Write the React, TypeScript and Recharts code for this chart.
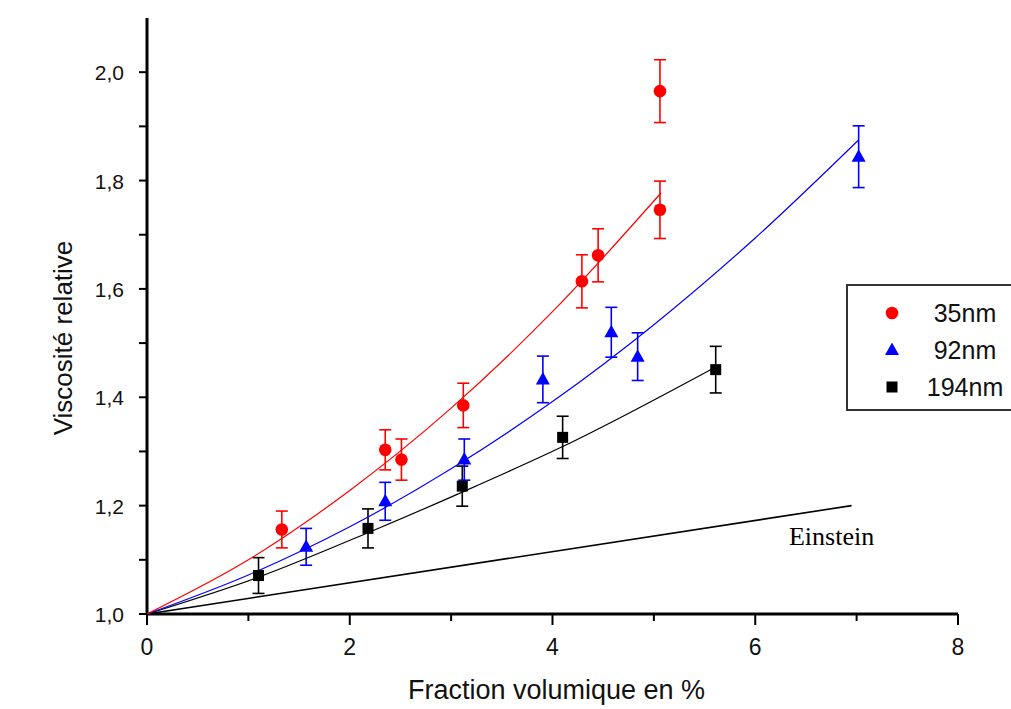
import React from 'react';
import {
  ComposedChart,
  Scatter,
  ErrorBar,
  XAxis,
  YAxis,
  Legend,
  ReferenceDot,
} from 'recharts';

// measured points (volume fraction %, relative viscosity, error)
const x35 = [1.33, 2.35, 2.51, 3.12, 4.29, 4.45, 5.06, 5.06];
const y35 = [1.156, 1.303, 1.285, 1.385, 1.614, 1.662, 1.746, 1.965];
const err35 = [0.034, 0.037, 0.038, 0.041, 0.049, 0.049, 0.053, 0.058];

const x92 = [1.57, 2.35, 3.13, 3.905, 4.58, 4.84, 7.02];
const y92 = [1.124, 1.208, 1.285, 1.433, 1.52, 1.475, 1.844];
const err92 = [0.034, 0.035, 0.038, 0.043, 0.046, 0.044, 0.057];

const x194 = [1.1, 2.18, 3.11, 4.1, 5.61];
const y194 = [1.071, 1.158, 1.236, 1.326, 1.451];
const err194 = [0.033, 0.036, 0.037, 0.039, 0.043];

// fitted curves
const fit35X = [0, 1, 2, 3, 4, 5.07];
const fit35Y = [1.0, 1.1, 1.228, 1.38, 1.558, 1.777];
const fit92X = [0, 1, 2, 3, 4, 5, 6, 7.02];
const fit92Y = [1.0, 1.072, 1.161, 1.268, 1.392, 1.534, 1.694, 1.875];
const fit194X = [0, 1.1, 2.18, 3.11, 4.1, 5.61];
const fit194Y = [1.0, 1.068, 1.15, 1.225, 1.309, 1.456];
const einsteinX = [0, 6.95];
const einsteinY = [1.0, 1.2];

const xTicks = [0, 1, 2, 3, 4, 5, 6, 7, 8];
const yTicks = [1.0, 1.1, 1.2, 1.3, 1.4, 1.5, 1.6, 1.7, 1.8, 1.9, 2.0];

const legendNames = ['35nm', '92nm', '194nm'];
const legendShapes = ['circle', 'triangle', 'square'];
const legendColors = ['#ff0000', '#0000ff', '#000000'];

const zip = (xs: number[], ys: number[], es?: number[]) =>
  xs.map((x, i) => ({ x, y: ys[i], err: es ? es[i] : 0 }));

const pts35 = zip(x35, y35, err35);
const pts92 = zip(x92, y92, err92);
const pts194 = zip(x194, y194, err194);

const sans = '"Liberation Sans", Arial, sans-serif';
const textColor = '#111';

const Marker = ({ kind, cx, cy, color }: any) => {
  if (kind === 'circle') return <circle cx={cx} cy={cy} r={6.3} fill={color} />;
  if (kind === 'triangle') {
    const h = 12.5;
    const w = 14;
    return (
      <polygon
        points={`${cx},${cy - h * 0.6} ${cx - w / 2},${cy + h * 0.4} ${cx + w / 2},${cy + h * 0.4}`}
        fill={color}
      />
    );
  }
  return <rect x={cx - 5.5} y={cy - 5.5} width={11} height={11} fill={color} />;
};

const noShape = () => <g />;

const XTick = ({ x, y, payload }: any) => {
  const major = payload.value % 2 === 0;
  return (
    <g>
      <line x1={x} x2={x} y1={y} y2={y + (major ? 11 : 7)} stroke="#000" strokeWidth={2} />
      {major && (
        <text x={x} y={y + 41} textAnchor="middle" fontSize={23} fontFamily={sans} fill={textColor}>
          {payload.value}
        </text>
      )}
    </g>
  );
};

const YTick = ({ x, y, payload }: any) => {
  const major = Math.round(payload.value * 10) % 2 === 0;
  return (
    <g>
      <line x1={x - 8} x2={x} y1={y} y2={y} stroke="#000" strokeWidth={2} />
      {major && (
        <text x={x - 23} y={y + 8} textAnchor="end" fontSize={21} fontFamily={sans} fill={textColor}>
          {payload.value.toFixed(1).replace('.', ',')}
        </text>
      )}
    </g>
  );
};

const YTitle = ({ viewBox }: any) => {
  const cx = 72;
  const cy = viewBox.y + viewBox.height / 2 + 22;
  return (
    <text
      x={cx}
      y={cy}
      transform={`rotate(-90 ${cx} ${cy})`}
      textAnchor="middle"
      fontSize={26}
      fontFamily={sans}
      fill={textColor}
    >
      Viscosité relative
    </text>
  );
};

const LegendBox = () => (
  <div
    style={{
      width: 163,
      height: 123,
      border: '2px solid #333',
      background: '#fff',
      boxSizing: 'content-box',
    }}
  >
    <svg width={163} height={123}>
      {legendNames.map((name, i) => (
        <g key={name}>
          <Marker kind={legendShapes[i]} cx={44} cy={27 + i * 37} color={legendColors[i]} />
          <text
            x={117}
            y={27 + i * 37 + 9}
            textAnchor="middle"
            fontSize={25}
            fontFamily={sans}
            fill={textColor}
          >
            {name}
          </text>
        </g>
      ))}
    </svg>
  </div>
);

export default function App() {
  return (
    <div style={{ position: 'absolute', left: 0, top: 0, background: '#fff' }}>
      <ComposedChart width={1011} height={709} margin={{ top: 18, right: 53, bottom: 0, left: 0 }}>
        <XAxis
          type="number"
          dataKey="x"
          domain={[0, 8]}
          ticks={xTicks}
          interval={0}
          height={95}
          tickSize={0}
          tickMargin={0}
          tickLine={false}
          axisLine={{ stroke: '#000', strokeWidth: 3 }}
          tick={<XTick />}
          label={{
            value: 'Fraction volumique en %',
            position: 'insideBottom',
            offset: 10,
            dx: 4,
            fontSize: 27,
            fontFamily: sans,
            fill: textColor,
          }}
        />
        <YAxis
          type="number"
          dataKey="y"
          domain={[1, 2.1]}
          allowDataOverflow
          ticks={yTicks}
          interval={0}
          width={147}
          tickSize={0}
          tickMargin={0}
          tickLine={false}
          axisLine={{ stroke: '#000', strokeWidth: 3 }}
          tick={<YTick />}
          label={<YTitle />}
        />
        <Legend
          layout="vertical"
          align="center"
          verticalAlign="middle"
          wrapperStyle={{ left: 846, top: 284, width: 167, height: 127 }}
          content={<LegendBox />}
        />

        <Scatter
          data={zip(einsteinX, einsteinY)}
          line={{ stroke: '#000', strokeWidth: 1.6 }}
          shape={noShape}
          legendType="none"
          isAnimationActive={false}
        />
        <Scatter
          data={zip(fit194X, fit194Y)}
          line={{ stroke: '#000', strokeWidth: 1.2 }}
          lineJointType="monotoneX"
          shape={noShape}
          legendType="none"
          isAnimationActive={false}
        />
        <Scatter
          data={zip(fit92X, fit92Y)}
          line={{ stroke: '#0000ff', strokeWidth: 1.2 }}
          lineJointType="monotoneX"
          shape={noShape}
          legendType="none"
          isAnimationActive={false}
        />
        <Scatter
          data={zip(fit35X, fit35Y)}
          line={{ stroke: '#ff0000', strokeWidth: 1.2 }}
          lineJointType="monotoneX"
          shape={noShape}
          legendType="none"
          isAnimationActive={false}
        />

        <Scatter
          name="194nm"
          data={pts194}
          shape={(p: any) => <Marker kind="square" cx={p.cx} cy={p.cy} color="#000" />}
          isAnimationActive={false}
        >
          <ErrorBar dataKey="err" direction="y" width={6} stroke="#000" strokeWidth={1.6} isAnimationActive={false} />
        </Scatter>
        <Scatter
          name="92nm"
          data={pts92}
          shape={(p: any) => <Marker kind="triangle" cx={p.cx} cy={p.cy} color="#0000ff" />}
          isAnimationActive={false}
        >
          <ErrorBar dataKey="err" direction="y" width={6} stroke="#0000ff" strokeWidth={1.6} isAnimationActive={false} />
        </Scatter>
        <Scatter
          name="35nm"
          data={pts35}
          shape={(p: any) => <Marker kind="circle" cx={p.cx} cy={p.cy} color="#ff0000" />}
          isAnimationActive={false}
        >
          <ErrorBar dataKey="err" direction="y" width={6} stroke="#ff0000" strokeWidth={1.6} isAnimationActive={false} />
        </Scatter>

        <ReferenceDot
          x={einsteinX[1]}
          y={einsteinY[1]}
          r={0}
          fill="none"
          stroke="none"
          label={(props: any) => {
            const vb = props.viewBox || {};
            return (
              <text
                x={(vb.x ?? 0) - 20}
                y={(vb.y ?? 0) + 39}
                textAnchor="middle"
                fontSize={26}
                fontFamily='"Liberation Serif", "Times New Roman", serif'
                fill="#000"
              >
                Einstein
              </text>
            );
          }}
        />
      </ComposedChart>
    </div>
  );
}
